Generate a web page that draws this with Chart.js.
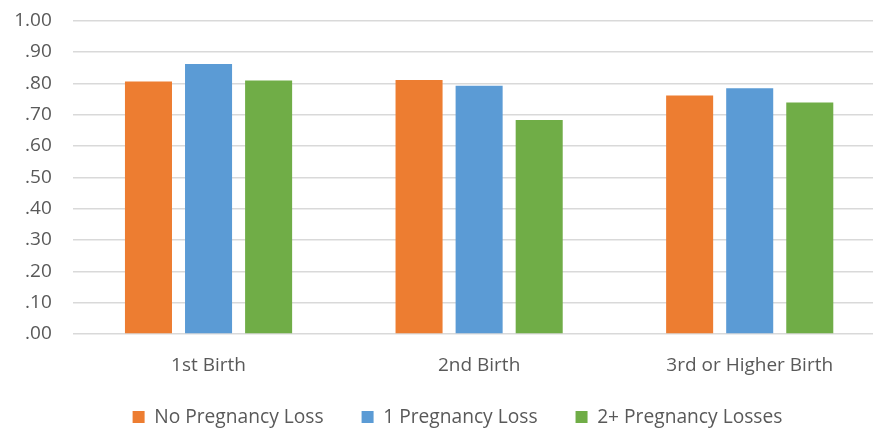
<!DOCTYPE html>
<html>
<head>
<meta charset="utf-8">
<script src="https://cdn.jsdelivr.net/npm/chart.js@4/dist/chart.umd.min.js"></script>
<style>
  html, body { margin: 0; padding: 0; background: #ffffff; overflow: hidden; }
  #wrap { position: relative; width: 885px; height: 428px; }
</style>
</head>
<body>
<div id="wrap"><canvas id="chart"></canvas></div>
<script>
// Birth order groups
const categories = ['1st Birth', '2nd Birth', '3rd or Higher Birth'];

// Series values per birth order
const noLoss = [0.806, 0.811, 0.761];
const oneLoss = [0.862, 0.792, 0.784];
const twoPlusLoss = [0.809, 0.683, 0.739];

const seriesNames = ['No Pregnancy Loss', '1 Pregnancy Loss', '2+ Pregnancy Losses'];

// Y axis range and step
const yMin = 0;
const yMax = 1;
const yStep = 0.1;

const textColor = '#595959';
const fontFamily = '"Open Sans", "Liberation Sans", sans-serif';

// Formats 0.9 as ".90" and 1 as "1.00"
function fmtTick(v) {
  const s = Number(v).toFixed(2);
  return s.startsWith('0') ? s.slice(1) : s;
}

// Raises the legend row a little and centres it under the plot
const legendPlacement = {
  id: 'legendPlacement',
  afterLayout(chart) {
    const lg = chart.legend;
    if (!lg) return;
    lg.top -= 7.3;
    lg.bottom = chart.height;
    lg.height = lg.bottom - lg.top;
    lg.left = 30;
    lg.width = lg.right - lg.left;
  }
};

new Chart(document.getElementById('chart'), {
  type: 'bar',
  data: {
    labels: categories,
    datasets: [
      { label: seriesNames[0], data: noLoss, backgroundColor: '#ED7D31' },
      { label: seriesNames[1], data: oneLoss, backgroundColor: '#5B9BD5' },
      { label: seriesNames[2], data: twoPlusLoss, backgroundColor: '#70AD47' }
    ]
  },
  plugins: [legendPlacement],
  options: {
    responsive: true,
    maintainAspectRatio: false,
    animation: false,
    devicePixelRatio: 1,
    categoryPercentage: 0.666,
    barPercentage: 0.783,
    layout: { padding: { left: 0, right: 0, top: 20.7, bottom: 0 } },
    scales: {
      x: {
        grid: { display: false, drawTicks: false },
        border: { display: false },
        ticks: {
          color: textColor,
          font: { family: fontFamily, size: 19 },
          padding: 20
        },
        afterFit: (scale) => {
          scale.height = 42.8;
          scale.paddingLeft = 0;
          scale.paddingRight = 0;
        }
      },
      y: {
        min: yMin,
        max: yMax,
        grid: { color: '#d9d9d9', lineWidth: 1.5, drawTicks: false },
        border: { display: false },
        ticks: {
          stepSize: yStep,
          color: textColor,
          font: { family: fontFamily, size: 19 },
          padding: 21.5,
          callback: (v) => fmtTick(v)
        },
        afterFit: (scale) => {
          scale.width = 73.25;
          scale.paddingTop = 0;
          scale.paddingBottom = 0;
        }
      }
    },
    plugins: {
      legend: {
        position: 'bottom',
        maxHeight: 51.2,
        labels: {
          color: textColor,
          font: { family: fontFamily, size: 19.2 },
          boxWidth: 12,
          boxHeight: 12,
          padding: 38
        }
      },
      tooltip: { enabled: false }
    }
  }
});
</script>
</body>
</html>
